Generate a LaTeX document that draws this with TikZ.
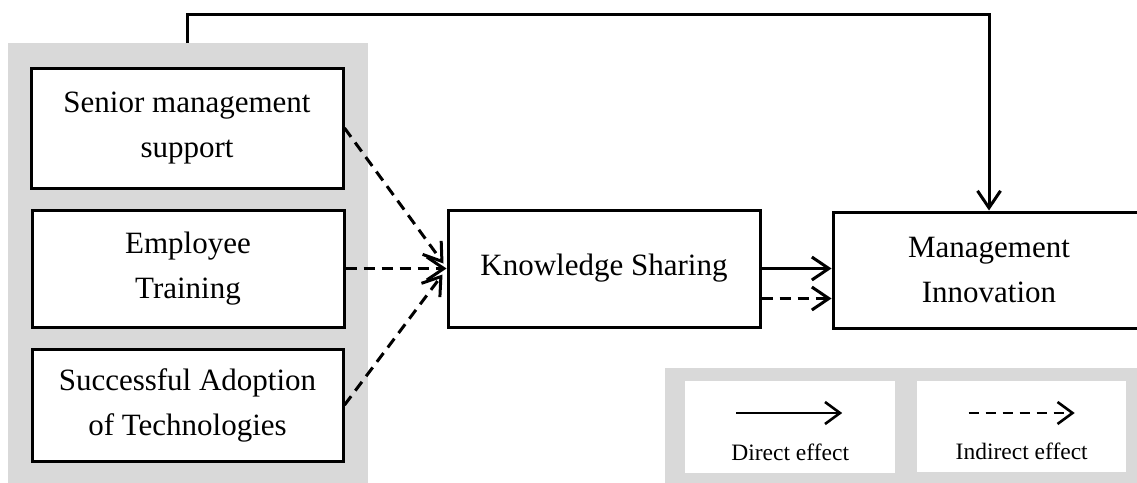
\documentclass[tikz,border=0pt]{standalone}
\usepackage{fontspec}
\setmainfont{Liberation Serif}
\usetikzlibrary{arrows.meta,calc}
\definecolor{panelgray}{HTML}{D9D9D9}
\begin{document}
\begin{tikzpicture}[x=1pt,y=-1pt,
 box/.style={draw,line width=3pt,fill=white,align=center,font=\fontsize{31}{45}\selectfont,inner sep=0pt},
 graypanel/.style={fill=panelgray,inner sep=0pt},
 direct/.style={line width=3pt,-{Straight Barb[length=17pt,width=23pt,line width=3pt]}},
 indirect/.style={direct,dash pattern=on 11pt off 7pt},
 legdirect/.style={line width=2.6pt,-{Straight Barb[length=15pt,width=22pt,line width=2.6pt]}},
 legindirect/.style={legdirect,dash pattern=on 10pt off 7pt},
 legbox/.style={fill=white,inner sep=0pt},
 legtext/.style={font=\fontsize{23.5}{28}\selectfont,inner sep=0pt}
]
\useasboundingbox (0,0) rectangle (1137,482);
\node[graypanel,minimum width=360pt,minimum height=445pt,anchor=north west] (panel) at (8,43) {};
\node[box,minimum width=312pt,minimum height=120pt] (sen) at (187,128) {Senior management\\support};
\node[box,minimum width=312pt,minimum height=117pt] (emp) at (188,268.5) {Employee\\Training};
\node[box,minimum width=311pt,minimum height=112pt] (suc) at (187.5,405) {Successful Adoption\\of Technologies};
\node[box,minimum width=312pt,minimum height=117pt] (ks) at (604,268.5) {Knowledge Sharing};
\node[box,minimum width=312pt,minimum height=116pt] (mi) at (989,270) {Management\\Innovation};

\draw[indirect] (sen.east) -- ($(ks.west)+(-3,-5)$);
\draw[indirect] (emp.east) -- (ks.west);
\draw[indirect] (suc.east) -- ($(ks.west)+(-4,6)$);
\draw[direct] (ks.east) -- (ks.east -| mi.west);
\draw[indirect] ($(ks.east)+(0,30)$) -- ($(ks.east -| mi.west)+(0,30)$);
\coordinate (top) at (187,14);
\draw[direct] (sen.north |- panel.north) -- (top) -| (mi.north);

\node[graypanel,minimum width=472pt,minimum height=120pt,anchor=north west] (leg) at (665,368) {};
\node[legbox,minimum width=210pt,minimum height=92pt,anchor=north west] (l1) at (685,381) {};
\node[legbox,minimum width=209pt,minimum height=91pt,anchor=north west] (l2) at (917,381) {};
\draw[legdirect] ($(l1.north)+(-54,32)$) -- ++(106,0);
\draw[legindirect] ($(l2.north)+(-53,32)$) -- ++(106,0);
\node[legtext] (t1) at ($(l1.north)+(0,71)$) {Direct effect};
\node[legtext] (t2) at ($(l2.north)+(0,70)$) {Indirect effect};
\end{tikzpicture}
\end{document}
